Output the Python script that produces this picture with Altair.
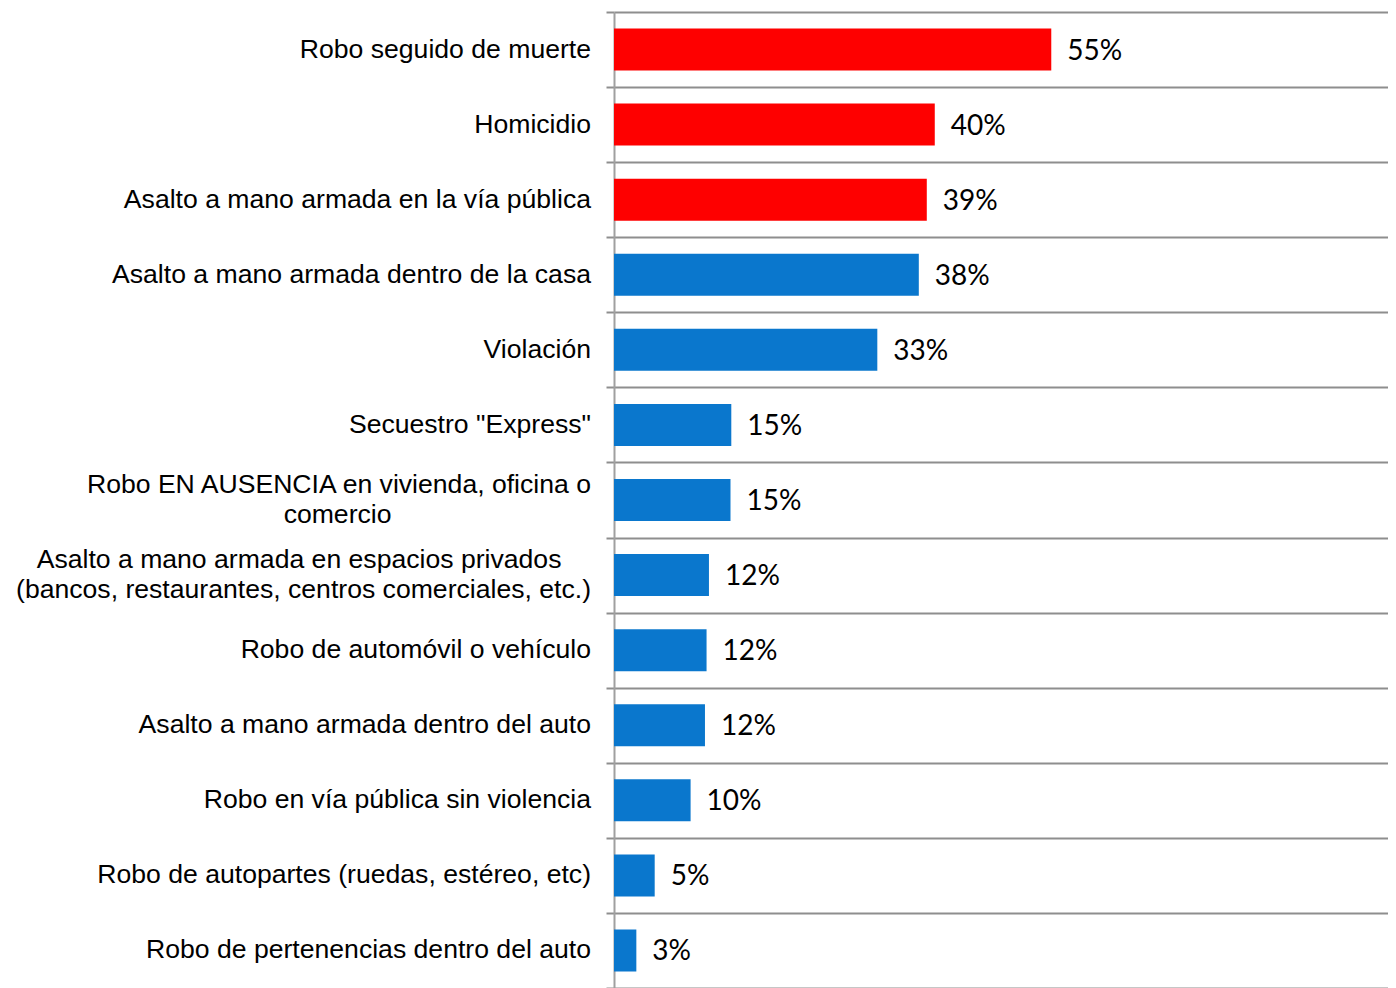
import altair as alt
import pandas as pd

NB = "\u00a0"
END = "\u200b"

categories = [
    "Robo seguido de muerte",
    "Homicidio",
    "Asalto a mano armada en la vía pública",
    "Asalto a mano armada dentro de la casa",
    "Violación",
    'Secuestro "Express"',
    "Robo EN AUSENCIA en vivienda, oficina o|comercio" + NB * 27 + END,
    "Asalto a mano armada en espacios privados" + NB * 4 + END + "|(bancos, restaurantes, centros comerciales, etc.)",
    "Robo de automóvil o vehículo",
    "Asalto a mano armada dentro del auto",
    "Robo en vía pública sin violencia",
    "Robo de autopartes (ruedas, estéreo, etc)",
    "Robo de pertenencias dentro del auto",
]

values = [54.8, 40.2, 39.2, 38.2, 33.0, 14.7, 14.6, 11.9, 11.6, 11.4, 9.6, 5.1, 2.8]

value_labels = ["55%", "40%", "39%", "38%", "33%", "15%", "15%",
                "12%", "12%", "12%", "10%", "5%", "3%"]

groups = ["alto"] * 3 + ["resto"] * 10

group_names = ["alto", "resto"]
group_colors = ["#FE0000", "#0A77CD"]

df = pd.DataFrame({
    "cat": categories,
    "value": values,
    "label": value_labels,
    "grupo": groups,
})

y_enc = alt.Y(
    "cat:N",
    sort=None,
    scale=alt.Scale(paddingInner=0, paddingOuter=0),
    axis=alt.Axis(
        title=None,
        labels=False,
        tickBand="extent",
        ticks=True,
        tickSize=8,
        tickColor="#8e8e8e",
        tickWidth=2,
        grid=True,
        gridColor="#8e8e8e",
        gridWidth=2,
        domain=True,
        domainColor="#a0a0a0",
        domainWidth=2,
    ),
)

x_enc = alt.X("value:Q", scale=alt.Scale(domain=[0, 97]), axis=None)

base = alt.Chart(df)

bars = base.mark_bar(height=42).encode(
    y=y_enc,
    x=x_enc,
    color=alt.Color(
        "grupo:N",
        scale=alt.Scale(domain=group_names, range=group_colors),
        legend=None,
    ),
)

text = base.mark_text(
    align="left", baseline="middle", dx=16, dy=2,
    font="Lato", fontSize=28, color="#000000",
).encode(y=y_enc, x=x_enc, text="label:N")

label_style = dict(
    align="right", baseline="middle",
    font="Liberation Sans", fontSize=26.6, color="#000000", lineHeight=30,
)

cat_single = (
    base.transform_filter("indexof(datum.cat, '|') < 0")
    .mark_text(**label_style)
    .encode(y=y_enc, x=alt.value(-23), text="cat:N")
)

cat_multi = (
    base.transform_filter("indexof(datum.cat, '|') >= 0")
    .transform_calculate(lines="split(datum.cat, '|')")
    .mark_text(dy=-15, **label_style)
    .encode(y=y_enc, x=alt.value(-23), text="lines:N")
)

chart = (
    alt.layer(bars, text, cat_single, cat_multi)
    .properties(
        width=774,
        height=976,
        autosize=alt.AutoSizeParams(type="none"),
        padding={"left": 606, "top": 4, "right": 0, "bottom": 0},
    )
    .configure_view(stroke=None)
)

chart.save("out.html", embed_options={"renderer": "svg", "actions": False})
